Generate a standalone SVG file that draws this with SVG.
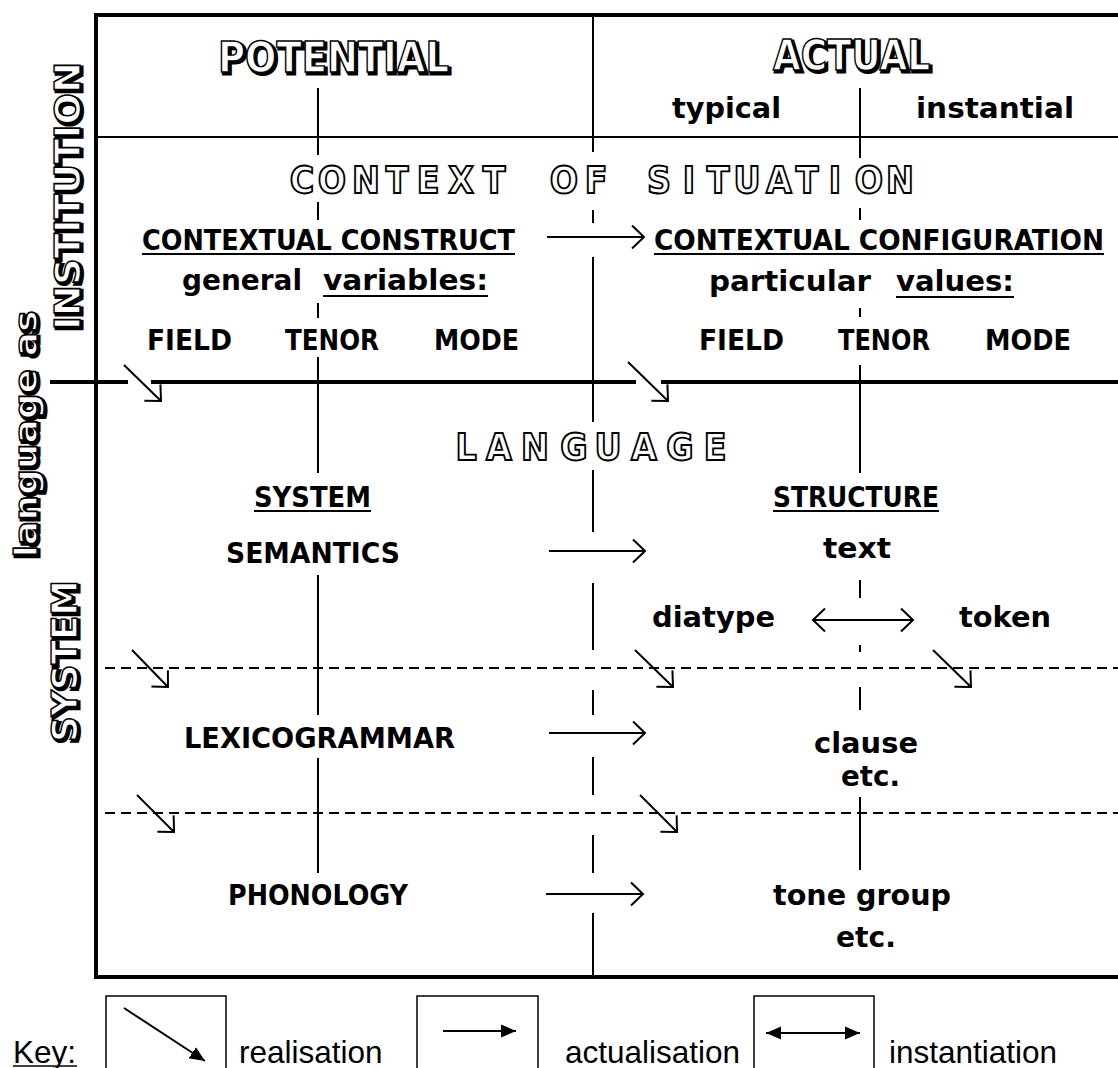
<svg xmlns="http://www.w3.org/2000/svg" width="1118" height="1068" viewBox="0 0 1118 1068">
<style>
.t{font-family:"DejaVu Sans Condensed","DejaVu Sans",sans-serif;font-weight:bold;font-size:28px;fill:#000}
.o{font-family:"DejaVu Sans Condensed","DejaVu Sans",sans-serif;font-weight:bold;font-size:37px;fill:#fff;stroke:#000;stroke-width:1.8;text-anchor:middle}
.sh{font-family:"DejaVu Sans Condensed","DejaVu Sans",sans-serif;font-weight:bold;fill:#000;stroke:#000;stroke-width:3}
.sf{font-family:"DejaVu Sans Condensed","DejaVu Sans",sans-serif;font-weight:bold;fill:#fff;stroke:#000;stroke-width:1.4}
.ln{stroke:#000;stroke-width:2;fill:none}
.ul{stroke:#000;stroke-width:2}
.ds{stroke:#000;stroke-width:2;fill:none;stroke-dasharray:10 6}
.ar{stroke:#000;stroke-width:2;fill:none;marker-end:url(#chev)}
.k{font-family:"Liberation Sans",Arial,sans-serif;font-size:31.5px;fill:#000}
.kb{fill:none;stroke:#000;stroke-width:1.5}
</style>
<defs>
<marker id="chev" markerUnits="userSpaceOnUse" markerWidth="30" markerHeight="30" viewBox="-15 -15 30 30" refX="0" refY="0" orient="auto-start-reverse">
<path d="M-12,-11.5 L0,0 L-12,11.5" fill="none" stroke="#000" stroke-width="2"/>
</marker>
<marker id="tri" markerUnits="userSpaceOnUse" markerWidth="30" markerHeight="30" viewBox="-15 -15 30 30" refX="0" refY="0" orient="auto-start-reverse">
<path d="M-17,-7.5 L0,0 L-17,7.5 Z" fill="#000"/>
</marker>
</defs>
<rect width="1118" height="1068" fill="#fff"/>

<g id="frame">
<path d="M1125,15 H96 V977 H1125" fill="none" stroke="#000" stroke-width="4"/>
<line x1="96" y1="137" x2="1118" y2="137" class="ln"/>
<path d="M50,382 H128 M151,382 H636 M661,382 H1118" stroke="#000" stroke-width="4"/>
<line x1="105" y1="668" x2="1118" y2="668" class="ds"/>
<line x1="105" y1="813" x2="1118" y2="813" class="ds"/>
</g>

<g id="columns">
<path class="ln" d="M593,15 V152 M593,210 V223 M593,257 V422 M593,470 V532 M593,583 V650 M593,690 V715 M593,757 V795 M593,835 V873 M593,913 V977"/>
<path class="ln" d="M318,88 V155 M318,202 V220 M318,303 V318 M318,357 V473 M318,575 V715 M318,758 V873"/>
<path class="ln" d="M860,88 V158 M860,208 V220 M860,308 V317 M860,365 V473 M860,580 V598 M860,645 V652 M860,687 V710 M860,797 V870"/>
</g>

<g id="side-labels">
<g id="institution">
<text class="sh" font-size="36" transform="translate(82,198) rotate(-90)" text-anchor="middle" textLength="268" lengthAdjust="spacingAndGlyphs">INSTITUTION</text>
<text class="sf" font-size="36" transform="translate(80,196) rotate(-90)" text-anchor="middle" textLength="268" lengthAdjust="spacingAndGlyphs">INSTITUTION</text>
</g>
<g id="language-as">
<text class="sh" font-size="32" transform="translate(39,436) rotate(-90)" text-anchor="middle" textLength="247" lengthAdjust="spacingAndGlyphs">language as</text>
<text class="sf" font-size="32" transform="translate(37,434) rotate(-90)" text-anchor="middle" textLength="247" lengthAdjust="spacingAndGlyphs">language as</text>
</g>
<g id="system-side">
<text class="sh" font-size="36" transform="translate(79,663) rotate(-90)" text-anchor="middle" textLength="162" lengthAdjust="spacingAndGlyphs">SYSTEM</text>
<text class="sf" font-size="36" transform="translate(77,661) rotate(-90)" text-anchor="middle" textLength="162" lengthAdjust="spacingAndGlyphs">SYSTEM</text>
</g>
</g>

<g id="potential">
<text class="sh" font-size="42" x="220" y="74" textLength="231" lengthAdjust="spacingAndGlyphs">POTENTIAL</text>
<text class="sf" font-size="42" x="218" y="72" textLength="231" lengthAdjust="spacingAndGlyphs">POTENTIAL</text>
</g>
<g id="actual">
<text class="sh" font-size="42" x="775" y="72" textLength="157" lengthAdjust="spacingAndGlyphs">ACTUAL</text>
<text class="sf" font-size="42" x="773" y="70" textLength="157" lengthAdjust="spacingAndGlyphs">ACTUAL</text>
</g>
<g id="typical"><text class="t" x="672" y="118" textLength="109" lengthAdjust="spacingAndGlyphs">typical</text></g>
<g id="instantial"><text class="t" x="916" y="118" textLength="158" lengthAdjust="spacingAndGlyphs">instantial</text></g>

<g id="context-of-situation">
<text class="o" y="193" x="302 332 366 397 428 461 494 564 596 659 689 718 747 779 807 835 869 900">CONTEXTOFSITUATION</text>
</g>

<g id="contextual-construct">
<text class="t" x="142" y="250" textLength="373" lengthAdjust="spacingAndGlyphs">CONTEXTUAL CONSTRUCT</text>
<line class="ul" x1="142" y1="254" x2="515" y2="254"/>
</g>
<g id="general-variables">
<text class="t" x="182" y="290" textLength="120" lengthAdjust="spacingAndGlyphs">general</text>
<text class="t" x="323" y="290" textLength="165" lengthAdjust="spacingAndGlyphs">variables:</text>
<line class="ul" x1="323" y1="296" x2="488" y2="296"/>
</g>
<g id="pot-field"><text class="t" x="147" y="350" textLength="85" lengthAdjust="spacingAndGlyphs">FIELD</text></g>
<g id="pot-tenor"><text class="t" x="285" y="350" textLength="94" lengthAdjust="spacingAndGlyphs">TENOR</text></g>
<g id="pot-mode"><text class="t" x="434" y="350" textLength="85" lengthAdjust="spacingAndGlyphs">MODE</text></g>

<g id="contextual-configuration">
<text class="t" x="654" y="250" textLength="450" lengthAdjust="spacingAndGlyphs">CONTEXTUAL CONFIGURATION</text>
<line class="ul" x1="654" y1="254" x2="1104" y2="254"/>
</g>
<g id="particular-values">
<text class="t" x="709" y="291" textLength="162" lengthAdjust="spacingAndGlyphs">particular</text>
<text class="t" x="896" y="291" textLength="118" lengthAdjust="spacingAndGlyphs">values:</text>
<line class="ul" x1="896" y1="297" x2="1014" y2="297"/>
</g>
<g id="act-field"><text class="t" x="699" y="350" textLength="85" lengthAdjust="spacingAndGlyphs">FIELD</text></g>
<g id="act-tenor"><text class="t" x="838" y="350" textLength="92" lengthAdjust="spacingAndGlyphs">TENOR</text></g>
<g id="act-mode"><text class="t" x="985" y="350" textLength="86" lengthAdjust="spacingAndGlyphs">MODE</text></g>

<g id="language">
<text class="o" y="460" x="466 499 535 574 608 644 680 715">LANGUAGE</text>
</g>

<g id="system">
<text class="t" x="254" y="507" textLength="117" lengthAdjust="spacingAndGlyphs">SYSTEM</text>
<line class="ul" x1="254" y1="511" x2="371" y2="511"/>
</g>
<g id="structure">
<text class="t" x="773" y="507" textLength="166" lengthAdjust="spacingAndGlyphs">STRUCTURE</text>
<line class="ul" x1="773" y1="511" x2="939" y2="511"/>
</g>
<g id="semantics"><text class="t" x="226" y="563" textLength="174" lengthAdjust="spacingAndGlyphs">SEMANTICS</text></g>
<g id="text"><text class="t" x="823" y="558" textLength="68" lengthAdjust="spacingAndGlyphs">text</text></g>
<g id="diatype"><text class="t" x="652" y="627" textLength="123" lengthAdjust="spacingAndGlyphs">diatype</text></g>
<g id="token"><text class="t" x="959" y="627" textLength="92" lengthAdjust="spacingAndGlyphs">token</text></g>
<g id="lexicogrammar"><text class="t" x="184" y="748" textLength="271" lengthAdjust="spacingAndGlyphs">LEXICOGRAMMAR</text></g>
<g id="clause">
<text class="t" x="814" y="753" textLength="104" lengthAdjust="spacingAndGlyphs">clause</text>
<text class="t" x="841" y="786" textLength="59" lengthAdjust="spacingAndGlyphs">etc.</text>
</g>
<g id="phonology"><text class="t" x="228" y="905" textLength="180" lengthAdjust="spacingAndGlyphs">PHONOLOGY</text></g>
<g id="tone-group">
<text class="t" x="773" y="905" textLength="178" lengthAdjust="spacingAndGlyphs">tone group</text>
<text class="t" x="836" y="947" textLength="60" lengthAdjust="spacingAndGlyphs">etc.</text>
</g>

<g id="connectors">
<line class="ar" x1="547" y1="237" x2="644" y2="237"/>
<line class="ar" x1="549" y1="551" x2="645" y2="551"/>
<line class="ar" x1="549" y1="733" x2="645" y2="733"/>
<line class="ar" x1="546" y1="894" x2="643" y2="894"/>
<line class="ar" x1="813" y1="620" x2="913" y2="620" marker-start="url(#chev)"/>
<line class="ar" x1="124" y1="365" x2="161" y2="401"/>
<line class="ar" x1="628" y1="362" x2="668" y2="401"/>
<line class="ar" x1="132" y1="650" x2="168" y2="687"/>
<line class="ar" x1="635" y1="650" x2="673" y2="687"/>
<line class="ar" x1="933" y1="650" x2="971" y2="687"/>
<line class="ar" x1="137" y1="795" x2="174" y2="832"/>
<line class="ar" x1="640" y1="795" x2="677" y2="832"/>
</g>

<g id="key">
<text class="k" x="13" y="1063">Key:</text>
<line x1="13" y1="1066" x2="77" y2="1066" stroke="#000" stroke-width="1.5"/>
<rect class="kb" x="106" y="996" width="120" height="90"/>
<line x1="124" y1="1008" x2="205" y2="1061" stroke="#000" stroke-width="2" marker-end="url(#tri)"/>
<text class="k" x="239" y="1063">realisation</text>
<rect class="kb" x="417" y="996" width="121" height="90"/>
<line x1="443" y1="1031" x2="516" y2="1031" stroke="#000" stroke-width="2" marker-end="url(#tri)"/>
<text class="k" x="565" y="1063">actualisation</text>
<rect class="kb" x="754" y="996" width="120" height="90"/>
<line x1="766" y1="1033" x2="860" y2="1033" stroke="#000" stroke-width="2" marker-start="url(#tri)" marker-end="url(#tri)"/>
<text class="k" x="889" y="1063">instantiation</text>
</g>
</svg>
